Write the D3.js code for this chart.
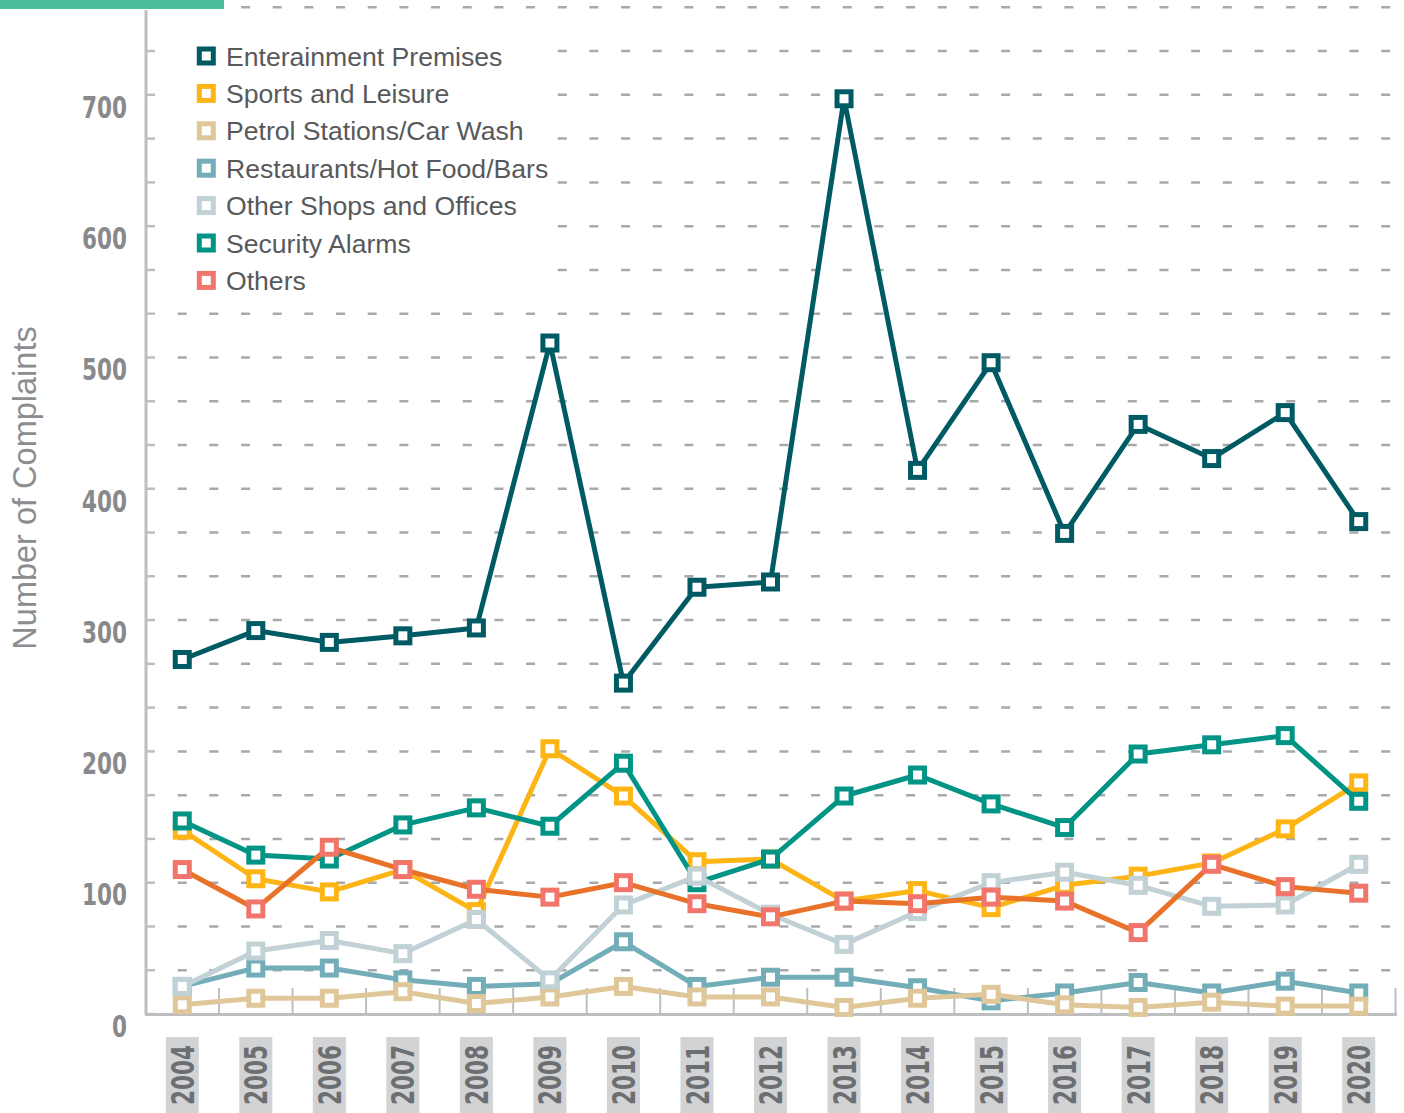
<!DOCTYPE html>
<html>
<head>
<meta charset="utf-8">
<script src="https://cdn.jsdelivr.net/npm/d3@7"></script>
<style>
body { margin: 0; background: #fff; }
</style>
</head>
<body>
<script>
// data
var years = ["2004","2005","2006","2007","2008","2009","2010","2011","2012","2013","2014","2015","2016","2017","2018","2019","2020"]

var entertainment = [270, 292, 283, 288, 294, 511, 252, 325, 329, 697, 414, 496, 366, 449, 423, 458, 375]
var sports = [140, 103, 93, 110, 78, 202, 166, 116, 118, 86, 94, 81, 98, 105, 115, 141, 176]
var petrol = [7, 12, 12, 17, 8, 13, 21, 13, 13, 5, 12, 15, 7, 5, 9, 6, 6]
var restaurants = [21, 35, 35, 26, 21, 23, 55, 21, 28, 28, 20, 10, 16, 24, 16, 25, 16]
var otherShops = [21, 48, 56, 46, 72, 26, 83, 105, 76, 53, 78, 100, 108, 98, 82, 83, 114]
var security = [147, 121, 118, 144, 157, 143, 191, 100, 118, 166, 182, 160, 142, 198, 205, 212, 162]
var others = [110, 80, 127, 110, 95, 89, 100, 84, 74, 86, 84, 89, 86, 62, 114, 97, 92]

var yLabels = [0, 100, 200, 300, 400, 500, 600, 700]

var legendNames = ["Enterainment Premises", "Sports and Leisure", "Petrol Stations/Car Wash",
  "Restaurants/Hot Food/Bars", "Other Shops and Offices", "Security Alarms", "Others"]
var legendColors = ["#005a64", "#fdb515", "#dfc79a", "#73aeb8", "#c1d1d5", "#009485", "#f1756a"]

// drawing order bottom -> top
var series = [
  {values: restaurants, line: "#73aeb8", mark: "#73aeb8"},
  {values: petrol, line: "#dfc79a", mark: "#dfc79a"},
  {values: sports, line: "#fdb515", mark: "#fdb515"},
  {values: security, line: "#009485", mark: "#009485"},
  {values: otherShops, line: "#c1d1d5", mark: "#c1d1d5"},
  {values: others, line: "#e8722a", mark: "#f1756a"},
  {values: entertainment, line: "#005a64", mark: "#005a64"}
]

var W = 1404, H = 1113
var svg = d3.select("body").append("svg")
  .attr("width", W)
  .attr("height", H)

var x = d3.scaleBand().domain(years).range([145.5, 1395.5]).padding(0)
var cx = function(d) { return x(d) + x.bandwidth() / 2 }
var y = d3.scaleLinear().domain([0, 2300 / 3]).range([1014, 7.3])

var gridVals = d3.range(0, 767, 100 / 3)

// dashed grid
svg.append("g").selectAll("line")
  .data(gridVals.slice(1))
  .enter().append("line")
  .attr("x1", 177.7)
  .attr("x2", 1396)
  .attr("y1", function(d) { return y(d) })
  .attr("y2", function(d) { return y(d) })
  .attr("stroke", "#a7a9ac")
  .attr("stroke-width", 2.5)
  .attr("stroke-dasharray", "9,22.67")

// y axis ticks
svg.append("g").selectAll("line")
  .data(gridVals)
  .enter().append("line")
  .attr("x1", 146)
  .attr("x2", 155)
  .attr("y1", function(d) { return y(d) })
  .attr("y2", function(d) { return y(d) })
  .attr("stroke", "#bcbec0")
  .attr("stroke-width", 2.5)

// vertical ticks at category boundaries
var bounds = years.map(function(d) { return x(d) }).concat([x(years[years.length - 1]) + x.bandwidth()])
svg.append("g").selectAll("line")
  .data(bounds.slice(1))
  .enter().append("line")
  .attr("x1", function(d) { return d })
  .attr("x2", function(d) { return d })
  .attr("y1", 988)
  .attr("y2", 1014)
  .attr("stroke", "#bcbec0")
  .attr("stroke-width", 2)

// axis lines
svg.append("line")
  .attr("x1", 146).attr("x2", 146)
  .attr("y1", 10).attr("y2", 1015)
  .attr("stroke", "#bcbec0").attr("stroke-width", 3)
svg.append("line")
  .attr("x1", 145).attr("x2", 1397)
  .attr("y1", 1014.5).attr("y2", 1014.5)
  .attr("stroke", "#bcbec0").attr("stroke-width", 3)

// green bar top left
svg.append("rect")
  .attr("x", 0).attr("y", 0)
  .attr("width", 224).attr("height", 9)
  .attr("fill", "#4dbe9b")

// y labels
svg.append("g").selectAll("text")
  .data(yLabels)
  .enter().append("text")
  .attr("x", 127)
  .attr("y", function(d) { return y(d) + 12 })
  .attr("dy", "0.36em")
  .attr("text-anchor", "end")
  .attr("font-family", "'DejaVu Sans', sans-serif")
  .attr("font-weight", "bold")
  .attr("font-size", 30)
  .attr("textLength", function(d) { return String(d).length * 15 })
  .attr("lengthAdjust", "spacingAndGlyphs")
  .attr("fill", "#88898c")
  .text(function(d) { return d })

// y title
svg.append("text")
  .attr("transform", "translate(36,488) rotate(-90)")
  .attr("text-anchor", "middle")
  .attr("font-family", "'Liberation Sans', Arial, sans-serif")
  .attr("font-size", 32.5)
  .attr("fill", "#8c8d90")
  .text("Number of Complaints")

// x labels
var xl = svg.append("g").selectAll("g")
  .data(years)
  .enter().append("g")

xl.append("rect")
  .attr("x", function(d) { return cx(d) - 16.5 })
  .attr("y", 1037)
  .attr("width", 33)
  .attr("height", 80)
  .attr("fill", "#d1d3d4")

xl.append("text")
  .attr("transform", function(d) { return "translate(" + cx(d) + ",1075) rotate(-90)" })
  .attr("text-anchor", "middle")
  .attr("dy", "0.36em")
  .attr("font-family", "'DejaVu Sans', sans-serif")
  .attr("font-weight", "bold")
  .attr("font-size", 32)
  .attr("textLength", 60)
  .attr("lengthAdjust", "spacingAndGlyphs")
  .attr("fill", "#6d6e71")
  .text(function(d) { return d })

// series
var line = d3.line()
  .x(function(d, i) { return cx(years[i]) })
  .y(function(d) { return y(d) })

series.forEach(function(s) {
  var g = svg.append("g")
  g.append("path")
    .attr("d", line(s.values))
    .attr("fill", "none")
    .attr("stroke", s.line)
    .attr("stroke-width", 5)
    .attr("stroke-linejoin", "round")

  g.selectAll("rect")
    .data(s.values)
    .enter().append("rect")
    .attr("x", function(d, i) { return cx(years[i]) - 7 })
    .attr("y", function(d) { return y(d) - 7 })
    .attr("width", 14)
    .attr("height", 14)
    .attr("fill", "#fff")
    .attr("stroke", s.mark)
    .attr("stroke-width", 5)
})

// legend, white box hides the grid behind it
var legend = svg.append("g").attr("class", "legend")

legend.append("rect")
  .attr("x", 156)
  .attr("y", 22)
  .attr("width", 400)
  .attr("height", 278)
  .attr("fill", "#fff")

legend.selectAll("rect.key")
  .data(legendColors)
  .enter().append("rect")
  .attr("class", "key")
  .attr("x", 199.3)
  .attr("y", function(d, i) { return 56 + i * 37.4 - 7 })
  .attr("width", 14)
  .attr("height", 14)
  .attr("fill", "#fff")
  .attr("stroke", function(d) { return d })
  .attr("stroke-width", 5)

legend.selectAll("text")
  .data(legendNames)
  .enter().append("text")
  .attr("x", 226)
  .attr("y", function(d, i) { return 56 + i * 37.4 })
  .attr("dy", "0.36em")
  .attr("font-family", "'Liberation Sans', Arial, sans-serif")
  .attr("font-size", 26.6)
  .attr("fill", "#58595b")
  .text(function(d) { return d })
</script>
</body>
</html>
